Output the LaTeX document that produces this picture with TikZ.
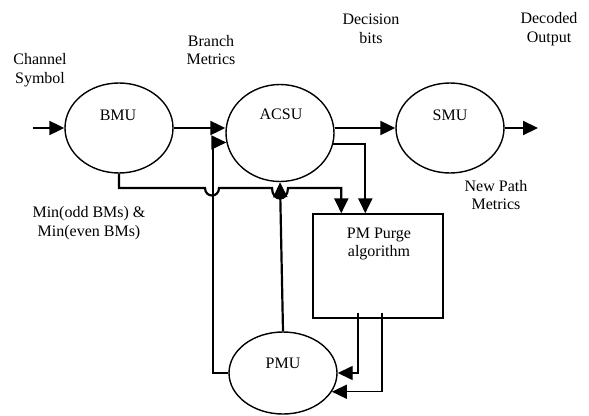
\documentclass[tikz,border=0pt]{standalone}
\usepackage{fontspec}
\setmainfont{Liberation Serif}
\usetikzlibrary{shapes.geometric,arrows.meta}
\begin{document}
\begin{tikzpicture}[x=1pt,y=-1pt,
 unit/.style={draw,ellipse,line width=1.4pt,minimum width=108pt,minimum height=90pt,inner sep=0pt},
 lbl/.style={align=center,font=\fontsize{16}{18.8}\selectfont,inner sep=0pt},
 thickarr/.style={line width=2.2pt,-{Triangle[length=15pt,width=14pt]}},
 thinarr/.style={line width=1.4pt,-{Triangle[length=15pt,width=14pt]}},
]
\useasboundingbox (0,0) rectangle (589,415);
\node[unit] (bmu) at (119,128) {};
\node[lbl] (bmut) at (118,115) {BMU};
\node[unit,minimum height=97pt] (acsu) at (280,133) {};
\node[lbl] (acsut) at (281,114) {ACSU};
\node[unit] (smu) at (450,128) {};
\node[lbl] (smut) at (450,115) {SMU};
\node[unit,minimum height=82pt] (pmu) at (283,373) {};
\node[lbl] (pmut) at (283,363) {PMU};
\node[draw,line width=1.4pt,minimum width=130pt,minimum height=104pt,inner sep=0pt] (pmp) at (378,266) {};
\node[lbl] (pmpt) at (379,244) {PM Purge\\algorithm};

\node[lbl] (l1) at (40,70) {Channel\\Symbol};
\node[lbl] (l2) at (211,50) {Branch\\Metrics};
\node[lbl] (l3) at (371,29) {Decision\\bits};
\node[lbl] (l4) at (549,29) {Decoded\\Output};
\node[lbl] (l5) at (496,195) {New Path\\Metrics};
\node[lbl] (l6) at (89,223) {Min(odd BMs) \&\\Min(even BMs)};

\coordinate (in) at (33,128);
\coordinate (out) at (538,128);
\coordinate (o1) at (358,313);
\coordinate (o2) at (382,313);

\draw[thickarr] (in) -- (bmu.west);
\draw[thickarr] (bmu.east) -- (bmu.east -| acsu.west);
\draw[thickarr] (smu.west -| acsu.east) -- (smu.west);
\draw[thickarr] (smu.east) -- (out);

\draw[thickarr] (bmu.south) |- (205,188) .. controls (205,198) and (219,198) .. (219,188)
  -- (272,188) .. controls (272,202) and (288,202) .. (288,188)
  -| ([xshift=29pt]pmp.north west);
\draw[thickarr] (acsu.-12) -| ([xshift=53pt]pmp.north west);
\draw[thinarr] (pmu.west) -- (213,373) |- (acsu.190);
\draw[thickarr] (pmu.north) -- (acsu.south);
\draw[thinarr] (o1) |- (pmu.east);
\draw[thinarr] (o2) |- (pmu.-21);
\end{tikzpicture}
\end{document}
